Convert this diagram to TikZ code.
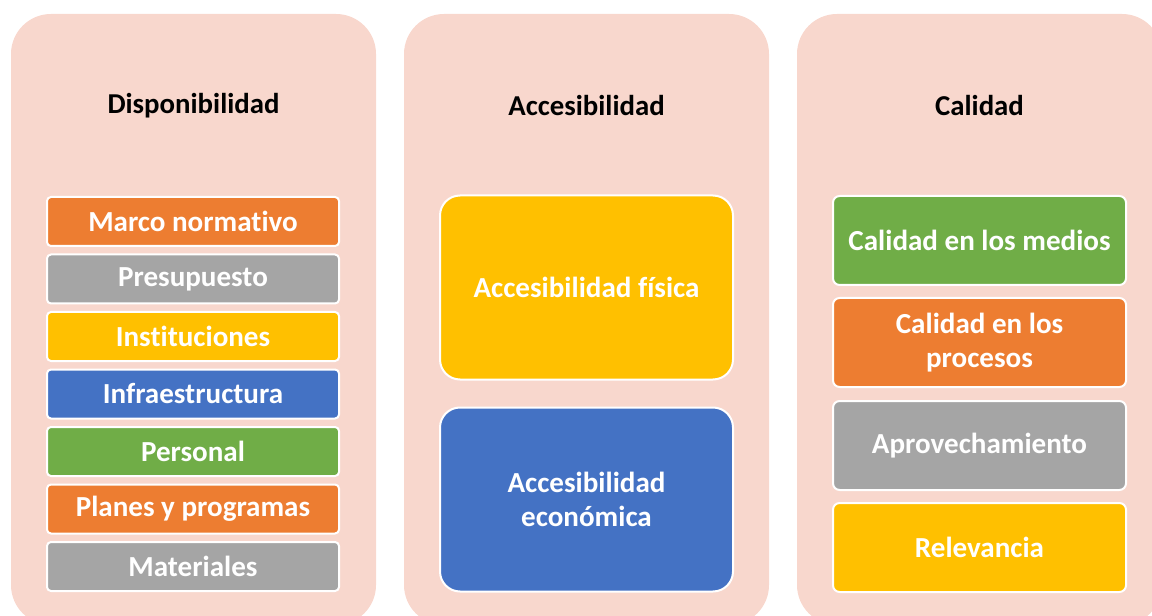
\documentclass[tikz,border=0pt]{standalone}
\usepackage{fontspec}
\setmainfont{Carlito}[Ligatures={NoCommon}]
\definecolor{pinkbg}{HTML}{F8D7CD}
\definecolor{orangebox}{HTML}{ED7D31}
\definecolor{graybox}{HTML}{A5A5A5}
\definecolor{yellowbox}{HTML}{FFC000}
\definecolor{bluebox}{HTML}{4472C4}
\definecolor{greenbox}{HTML}{70AD47}
\begin{document}
\begin{tikzpicture}[x=0.75pt,y=-0.75pt,
  column/.style={fill=pinkbg,rounded corners=30pt,minimum width=273.75pt,minimum height=458.25pt,inner sep=0pt},
  title/.style={font=\fontsize{21.6}{25}\selectfont\bfseries,text=black},
  item/.style={draw=white,line width=1.5pt,text=white,font=\fontsize{21.8}{25}\selectfont\bfseries,align=center,inner sep=0pt},
  small/.style={item,rounded corners=3pt,minimum width=219pt,minimum height=36.75pt},
  big/.style={item,rounded corners=15pt,minimum width=219.75pt,minimum height=138pt},
  mid/.style={item,rounded corners=5pt,minimum width=219.75pt,minimum height=66.75pt}]
\useasboundingbox (0,0) rectangle (1152,616);
% columns
\node[column] (col1) at (193.5,319.5) {};
\node[column] (col2) at (586.5,319.5) {};
\node[column] (col3) at (979.5,319.5) {};
\node[title] (disp) at (193.5,106) {Disponibilidad};
\node[title] (acc) at (586.5,106) {Accesibilidad};
\node[title] (cal) at (979.5,106) {Calidad};
% disponibilidad
\foreach \txt/\clr [count=\i] in {Marco normativo/orangebox,Presupuesto/graybox,Instituciones/yellowbox,
  Infraestructura/bluebox,Personal/greenbox,Planes y programas/orangebox,Materiales/graybox}
  \node[small,fill=\clr] (disp\i) at (193,221.5+57.5*\i-57.5) {\txt};
% accesibilidad
\node[big,fill=yellowbox] (acc1) at (586.5,287.5) {Accesibilidad física};
\node[big,fill=bluebox] (acc2) at (586.5,499.5) {Accesibilidad\\económica};
% calidad
\node[mid,fill=greenbox] (cal1) at (979.5,240.5) {Calidad en los medios};
\node[mid,fill=orangebox] (cal2) at (979.5,342.5) {Calidad en los\\procesos};
\node[mid,fill=graybox] (cal3) at (979.5,445.5) {Aprovechamiento};
\node[mid,fill=yellowbox] (cal4) at (979.5,547.5) {Relevancia};
\end{tikzpicture}
\end{document}
